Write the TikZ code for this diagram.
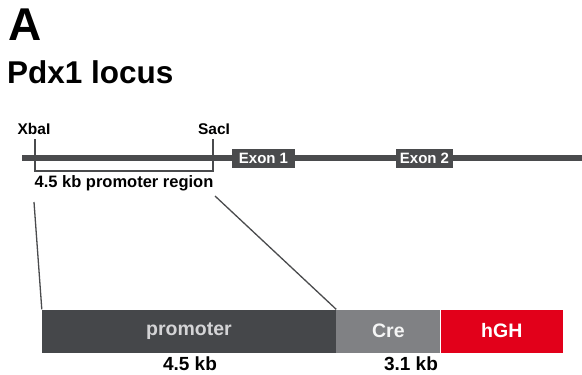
\documentclass[tikz,border=0pt]{standalone}
\usepackage{fontspec}
\setmainfont{Liberation Sans}
\definecolor{linegray}{HTML}{4A4B4D}
\definecolor{promgray}{HTML}{45474A}
\definecolor{cregray}{HTML}{808184}
\definecolor{hghred}{HTML}{E2001A}
\definecolor{promtext}{HTML}{D4D4D6}
\begin{document}
\begin{tikzpicture}[x=1pt,y=-1pt,
  lbl/.style={font=\bfseries\fontsize{15.5}{17}\selectfont, inner sep=0pt},
  exonbox/.style={fill=linegray, text=white, font=\bfseries\fontsize{15}{17}\selectfont, minimum width=63pt, minimum height=19pt, inner sep=0pt},
  seg/.style={minimum height=43pt, inner sep=0pt, font=\bfseries\fontsize{19.5}{22}\selectfont},
  sizelbl/.style={font=\bfseries\fontsize{19}{21}\selectfont, inner sep=0pt},
  thin/.style={draw=linegray, line width=1.3pt}]
\useasboundingbox (0,0) rectangle (582,375);
% title
\node[anchor=west, inner sep=0pt, font=\bfseries\fontsize{46}{50}\selectfont] (titleA) at (8,25) {A};
\node[anchor=west, inner sep=0pt, font=\bfseries\fontsize{31.5}{34}\selectfont] (title) at (7,72) {Pdx1 locus};
% locus line
\coordinate (ls) at (22,158);
\coordinate (le) at (582,158);
\draw[linegray, line width=5.5pt] (ls) -- (le);
% restriction sites
\coordinate (xb) at (35,158);
\coordinate (sc) at (213,158);
\draw[linegray, line width=2.5pt] (xb) -- ++(0,-19);
\draw[linegray, line width=2.5pt] (sc) -- ++(0,-19);
\node[lbl] (xbal) at (34,129) {XbaI};
\node[lbl] (sacl) at (214,129) {SacI};
% exons
\node[exonbox] (ex1) at (263.5,158) {Exon 1};
\node[exonbox, minimum width=57pt] (ex2) at (424.5,158) {Exon 2};
% bracket
\coordinate (bl) at (35,171);
\coordinate (br) at (213,171);
\draw[linegray, line width=1.8pt] ([yshift=14pt]bl) -- (bl) -- (br) -- ([yshift=14pt]br);
\node[lbl, font=\bfseries\fontsize{16.5}{18}\selectfont] (preg) at (124,183) {4.5 kb promoter region};
% construct
\node[seg, fill=promgray, text=promtext, minimum width=294pt] (prom) at (189,331) {promoter};
\node[seg, fill=cregray, text=white!92!gray, minimum width=104pt, anchor=west] (cre) at (prom.east) {Cre};
\node[seg, fill=hghred, text=white, minimum width=122pt, anchor=west] (hgh) at (cre.east) {hGH};
\node[sizelbl] (kb1) at (190,364) {4.5 kb};
\node[sizelbl] (kb2) at (411,364) {3.1 kb};
% zoom lines
\coordinate (zl1) at (34,202);
\coordinate (zr1) at (215,196);
\draw[thin] (zl1) -- (prom.north west);
\draw[thin] (zr1) -- (prom.north east);
\end{tikzpicture}
\end{document}
